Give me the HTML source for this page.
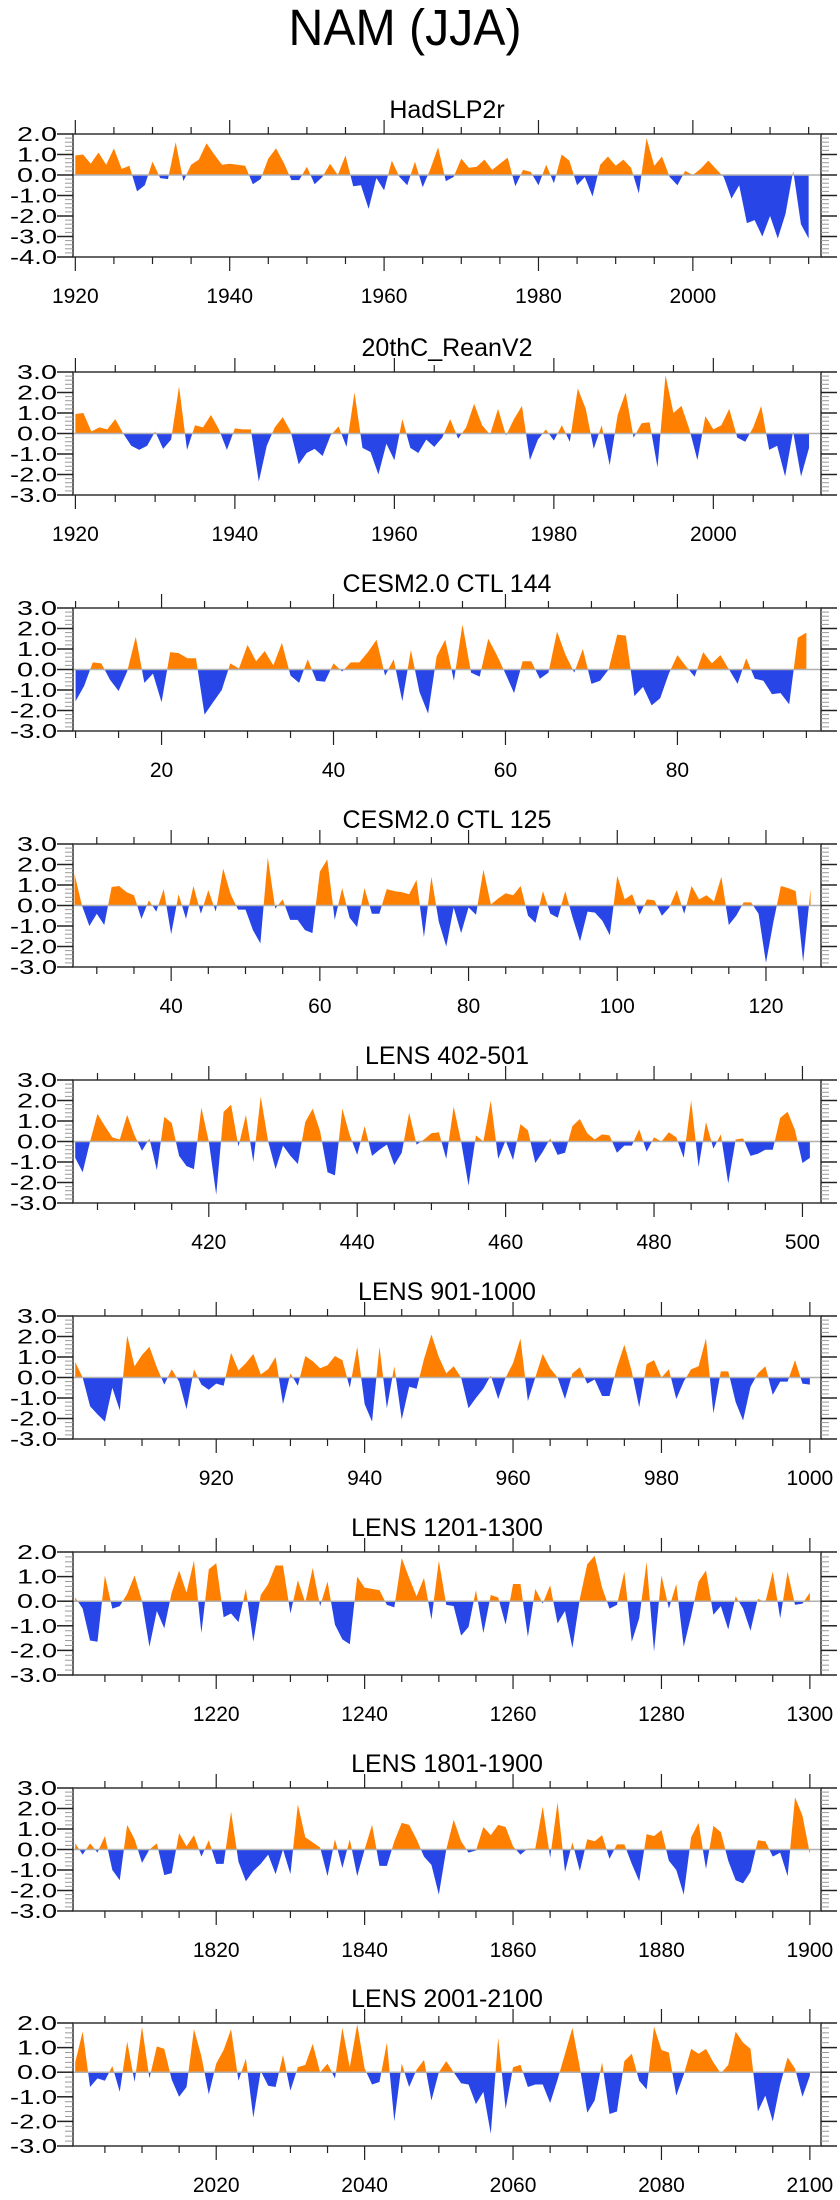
<!DOCTYPE html>
<html><head><meta charset="utf-8"><style>
html,body{margin:0;padding:0;background:#fff;}
svg{display:block;font-family:"Liberation Sans",Arial,sans-serif;}
</style></head><body>
<svg id="chart" width="840" height="2200" viewBox="0 0 840 2200" xmlns="http://www.w3.org/2000/svg">
<text x="405" y="45" font-size="51" text-anchor="middle" textLength="233" lengthAdjust="spacingAndGlyphs">NAM (JJA)</text>
</svg>
<script>
const titles = ["HadSLP2r","20thC_ReanV2","CESM2.0 CTL 144","CESM2.0 CTL 125","LENS 402-501","LENS 901-1000","LENS 1201-1300","LENS 1801-1900","LENS 2001-2100"];
const startYears = [1920,1920,10,27,402,901,1201,1801,2001];
const xDomains = [[1919.7,2016.6],[1919.7,2013.5],[9.7,96.7],[26.8,127.4],[401.7,502.5],[900.7,1001.5],[1200.7,1301.5],[1800.7,1901.5],[2000.7,2101.5]];
const yRanges = [[-4,2],[-3,3],[-3,3],[-3,3],[-3,3],[-3,3],[-3,2],[-3,3],[-3,2]];
const xLabels = [[1920,1940,1960,1980,2000],[1920,1940,1960,1980,2000],[20,40,60,80],[40,60,80,100,120],[420,440,460,480,500],[920,940,960,980,1000],[1220,1240,1260,1280,1300],[1820,1840,1860,1880,1900],[2020,2040,2060,2080,2100]];
const s1 = [0.95,1.0,0.55,1.1,0.5,1.3,0.3,0.45,-0.8,-0.5,0.65,-0.15,-0.2,1.6,-0.3,0.5,0.75,1.55,1.0,0.5,0.55,0.5,0.45,-0.45,-0.2,0.8,1.3,0.6,-0.25,-0.25,0.4,-0.45,-0.1,0.55,0.0,0.95,-0.55,-0.5,-1.65,-0.15,-0.75,0.7,-0.1,-0.5,0.65,-0.6,0.3,1.35,-0.3,-0.1,0.8,0.35,0.4,0.75,0.25,0.55,0.85,-0.55,0.25,0.15,-0.5,0.5,-0.4,1.0,0.7,-0.5,-0.1,-1.05,0.5,0.9,0.45,0.75,0.35,-0.9,1.8,0.45,0.9,-0.1,-0.5,0.2,0.0,0.3,0.7,0.3,-0.1,-1.15,-0.5,-2.35,-2.2,-3.0,-2.0,-3.1,-1.9,0.2,-2.4,-3.1];
const s2 = [0.95,1.0,0.1,0.3,0.2,0.7,0.0,-0.6,-0.8,-0.6,0.1,-0.75,-0.3,2.3,-0.8,0.4,0.3,0.9,0.2,-0.8,0.25,0.2,0.2,-2.35,-0.6,0.3,0.8,0.1,-1.5,-0.95,-0.75,-1.1,-0.1,0.35,-0.65,2.0,-0.7,-0.9,-2.0,-0.5,-1.3,0.7,-0.7,-0.95,-0.3,-0.65,-0.2,0.7,-0.25,0.3,1.45,0.4,-0.05,1.2,-0.1,0.7,1.35,-1.3,-0.3,0.2,-0.35,0.4,-0.4,2.2,1.2,-0.75,0.4,-1.55,0.9,2.0,-0.2,0.5,0.55,-1.65,2.85,1.0,1.35,0.2,-1.3,0.85,0.2,0.4,1.2,-0.2,-0.4,0.3,1.35,-0.8,-0.6,-2.1,0.1,-2.1,-0.7];
const s3 = [-1.55,-0.8,0.35,0.3,-0.5,-1.05,-0.1,1.6,-0.65,-0.2,-1.6,0.85,0.8,0.55,0.55,-2.2,-1.6,-1.0,0.3,0.05,1.2,0.4,0.9,0.2,1.3,-0.3,-0.65,0.5,-0.55,-0.6,0.3,-0.1,0.35,0.35,0.85,1.45,-0.3,0.5,-1.55,0.95,-1.1,-2.15,0.65,1.45,-0.55,2.2,-0.15,-0.35,1.5,0.7,-0.2,-1.15,0.4,0.4,-0.45,-0.15,1.85,0.7,-0.15,1.0,-0.7,-0.55,0.0,1.7,1.65,-1.3,-0.85,-1.75,-1.4,-0.2,0.7,0.15,-0.35,0.85,0.3,0.7,0.0,-0.7,0.55,-0.45,-0.55,-1.2,-1.15,-1.7,1.55,1.8];
const s4 = [1.55,0.0,-1.0,-0.4,-0.95,0.9,0.95,0.65,0.5,-0.65,0.25,-0.3,0.8,-1.4,0.55,-0.65,0.95,-0.4,0.75,-0.3,1.8,0.55,-0.2,-0.2,-1.2,-1.85,2.35,-0.15,0.3,-0.7,-0.7,-1.2,-1.35,1.65,2.25,-0.7,0.85,-0.6,-1.05,0.85,-0.4,-0.4,0.8,0.7,0.65,0.55,1.25,-1.55,1.4,-0.8,-2.0,-0.1,-1.35,-0.1,-0.45,1.75,0.05,0.35,0.6,0.5,0.95,-0.5,-0.85,0.7,-0.4,-0.6,0.7,-0.6,-1.75,-0.3,-0.35,-0.75,-1.45,1.45,0.3,0.55,-0.45,0.3,0.25,-0.5,-0.1,0.75,-0.4,0.95,0.3,0.5,0.2,1.4,-0.95,-0.5,0.15,0.15,-0.4,-2.8,-0.8,0.95,0.85,0.7,-2.75,0.8];
const s5 = [-0.8,-1.5,0.0,1.35,0.75,0.2,0.1,1.3,0.3,-0.45,0.15,-1.4,1.2,0.9,-0.7,-1.2,-1.35,1.65,0.0,-2.6,1.45,1.8,-0.25,1.3,-1.0,2.2,0.0,-1.35,-0.2,-0.7,-1.1,0.95,1.6,0.5,-1.5,-1.65,1.6,0.3,-0.65,0.75,-0.7,-0.4,-0.15,-1.15,-0.55,1.4,-0.15,0.1,0.4,0.45,-0.85,1.7,0.0,-2.15,0.3,0.0,2.0,-0.85,0.05,-0.9,0.85,0.55,-1.05,-0.5,0.15,-0.65,-0.55,0.75,1.1,0.4,0.1,0.35,0.3,-0.55,-0.2,-0.2,0.6,-0.5,0.2,0.0,0.45,0.2,-0.8,2.0,-1.25,0.95,-0.35,0.35,-2.05,0.1,0.15,-0.7,-0.6,-0.4,-0.4,1.15,1.45,0.55,-1.05,-0.8];
const s6 = [0.75,0.0,-1.4,-1.8,-2.15,-0.5,-1.6,2.05,0.55,1.1,1.5,0.5,-0.35,0.4,-0.2,-1.55,0.4,-0.35,-0.6,-0.3,-0.4,1.2,0.35,0.7,1.15,0.15,0.4,1.0,-1.3,0.2,-0.4,1.05,0.8,0.45,0.6,1.05,0.85,-0.5,1.5,-1.3,-2.15,1.5,-1.5,0.55,-2.05,-0.45,-0.55,0.9,2.1,1.0,0.2,0.55,0.0,-1.5,-1.0,-0.55,0.1,-1.05,0.0,0.7,1.9,-1.15,0.0,1.15,0.45,0.0,-1.05,0.2,0.5,-0.3,-0.1,-0.9,-0.9,0.5,1.6,0.3,-1.45,0.65,0.85,0.0,0.4,-1.05,-0.2,0.4,0.55,1.9,-1.75,0.3,0.3,-1.2,-2.1,-0.45,0.2,0.55,-0.85,-0.2,-0.2,0.85,-0.3,-0.35];
const s7 = [0.15,-0.3,-1.6,-1.65,1.05,-0.3,-0.2,0.3,1.05,0.0,-1.85,-0.4,-1.1,0.35,1.25,0.35,1.65,-1.3,1.3,1.55,-0.65,-0.5,-0.85,0.5,-1.65,0.25,0.7,1.45,1.45,-0.5,0.85,-0.05,1.35,-0.2,0.8,-0.95,-1.55,-1.75,1.0,0.55,0.5,0.45,-0.15,-0.25,1.75,0.95,0.2,0.95,-0.75,1.65,-0.15,-0.2,-1.4,-1.05,0.45,-1.3,0.25,0.15,-0.95,0.7,0.7,-1.45,0.5,-0.1,0.65,-0.9,-0.4,-1.9,0.1,1.5,1.85,0.55,-0.3,-0.15,1.2,-1.65,-0.7,1.6,-2.05,1.05,-0.3,0.7,-1.85,-0.6,0.8,1.25,-0.55,-0.2,-1.15,0.2,-0.3,-1.2,0.1,-0.05,1.2,-0.7,1.2,-0.15,-0.1,0.35];
const s8 = [0.3,-0.25,0.3,-0.15,0.65,-1.0,-1.5,1.2,0.5,-0.65,0.0,0.3,-1.25,-1.15,0.8,0.15,0.7,-0.35,0.45,-0.7,-0.7,1.85,-0.6,-1.55,-1.05,-0.7,-0.25,-1.2,0.0,-1.2,2.2,0.6,0.35,0.1,-1.3,0.5,-0.9,0.5,-1.3,0.0,1.2,-0.8,-0.8,0.4,1.3,1.2,0.5,-0.35,-0.75,-2.2,0.0,1.45,0.4,-0.15,-0.05,1.1,0.7,1.2,1.1,0.15,-0.25,0.05,0.05,2.1,-0.4,2.3,-1.1,0.35,-1.05,0.5,0.4,0.7,-0.45,0.25,0.25,-0.7,-1.55,0.75,0.65,0.95,-0.55,-1.0,-2.2,0.6,1.3,-0.95,1.15,0.85,-0.55,-1.5,-1.65,-1.1,0.45,0.4,-0.35,-0.15,-1.3,2.55,1.65,-0.2];
const s9 = [0.4,1.65,-0.6,-0.25,-0.35,0.25,-0.8,1.25,-0.4,1.85,-0.25,1.05,0.95,-0.3,-1.0,-0.6,1.75,0.65,-0.9,0.35,0.9,1.75,-0.35,0.55,-1.85,0.05,-0.55,-0.6,0.7,-0.75,0.2,0.3,1.15,0.0,0.35,-0.25,1.8,0.2,1.95,0.15,-0.5,-0.4,1.2,-2.0,0.35,-0.6,0.1,0.5,-1.15,0.0,0.45,0.0,-0.45,-0.5,-1.3,-0.8,-2.5,1.4,-1.5,0.2,0.3,-0.6,-0.5,-0.5,-1.25,-0.3,0.75,1.8,0.2,-1.65,-1.15,0.4,-1.7,-1.6,0.45,0.75,-0.35,-0.7,1.85,0.9,0.8,-0.95,-0.1,0.95,0.75,0.95,0.4,-0.05,0.3,1.65,1.2,0.95,-1.6,-0.95,-2.0,-0.5,0.6,0.15,-1.0,-0.15];
const series = [s1,s2,s3,s4,s5,s6,s7,s8,s9];

const NS = "http://www.w3.org/2000/svg";
const svg = document.getElementById("chart");
const tops = [134,372,608,844,1080,1316,1552,1788,2023];
const PL = 73, PR = 821, PH = 123;
function mk(tag, attrs, parent) {
  const e = document.createElementNS(NS, tag);
  for (const k in attrs) e.setAttribute(k, attrs[k]);
  parent.appendChild(e);
  return e;
}
for (let p = 0; p < 9; p++) {
  const top = tops[p], bot = top + PH;
  const [x0, x1] = xDomains[p];
  const [ymin, ymax] = yRanges[p];
  const xs = v => PL + (v - x0) / (x1 - x0) * (PR - PL);
  const ys = v => top + (ymax - v) / (ymax - ymin) * PH;
  const g = mk("g", {}, svg);
  
  
  const t = mk("text", {x: 447, y: top - 16, "font-size": 25, "text-anchor": "middle"}, g);
  t.textContent = titles[p];
  
  
  const y0 = ys(0);
  const data = series[p];
  let d = "M" + xs(startYears[p]) + "," + y0;
  data.forEach((v, i) => { d += " L" + xs(startYears[p] + i).toFixed(2) + "," + ys(v).toFixed(2); });
  d += " L" + xs(startYears[p] + data.length - 1).toFixed(2) + "," + y0 + " Z";
  const cpA = mk("clipPath", {id: "ca" + p}, svg);
  mk("rect", {x: PL, y: top, width: PR - PL, height: y0 - top}, cpA);
  const cpB = mk("clipPath", {id: "cb" + p}, svg);
  mk("rect", {x: PL, y: y0, width: PR - PL, height: bot - y0}, cpB);
  const pa = mk("path", {d: d, fill: "#ff8000", "clip-path": "url(#ca" + p + ")"}, g);
  
  
  const pb = mk("path", {d: d, fill: "#2846e8", "clip-path": "url(#cb" + p + ")"}, g);
  
  
  const zl = mk("line", {x1: PL, x2: PR, y1: y0, y2: y0, stroke: "#b0b0b0", "stroke-width": 1.5}, g);
  
  
  const box = mk("rect", {x: PL, y: top, width: PR - PL, height: PH, fill: "none", stroke: "#333", "stroke-width": 1.5}, g);
  
  
  for (let k = Math.round(ymin * 5); k <= Math.round(ymax * 5); k++) {
    const v = k / 5, yy = ys(v), major = (k % 5 === 0);
    const len = major ? 16 : 8;
    mk("line", {x1: PL - len, x2: PL, y1: yy, y2: yy, stroke: major ? "#222" : "#999", "stroke-width": major ? 1.5 : 1}, g);
    mk("line", {x1: PR, x2: PR + len, y1: yy, y2: yy, stroke: major ? "#222" : "#999", "stroke-width": major ? 1.5 : 1}, g);
    if (major) {
      const lab = mk("text", {x: 57, y: yy + 7, "font-size": 20, "text-anchor": "end", textLength: v < 0 ? 47 : 40, lengthAdjust: "spacingAndGlyphs"}, g);
      lab.textContent = v.toFixed(1);
      
      
    }
  }
  const startTick = Math.ceil(x0 / 5) * 5;
  for (let v = startTick; v <= x1; v += 5) {
    const xx = xs(v), major = (v % 20 === 0);
    const len = major ? 14 : 7;
    mk("line", {x1: xx, x2: xx, y1: top - len, y2: top, stroke: "#222", "stroke-width": 1.2}, g);
    mk("line", {x1: xx, x2: xx, y1: bot, y2: bot + len, stroke: "#222", "stroke-width": 1.2}, g);
  }
  xLabels[p].forEach(v => {
    const lab = mk("text", {x: xs(v), y: bot + 46, "font-size": 21, "text-anchor": "middle"}, g);
    lab.textContent = String(v);
    
    
  });
}
</script>
</body></html>
